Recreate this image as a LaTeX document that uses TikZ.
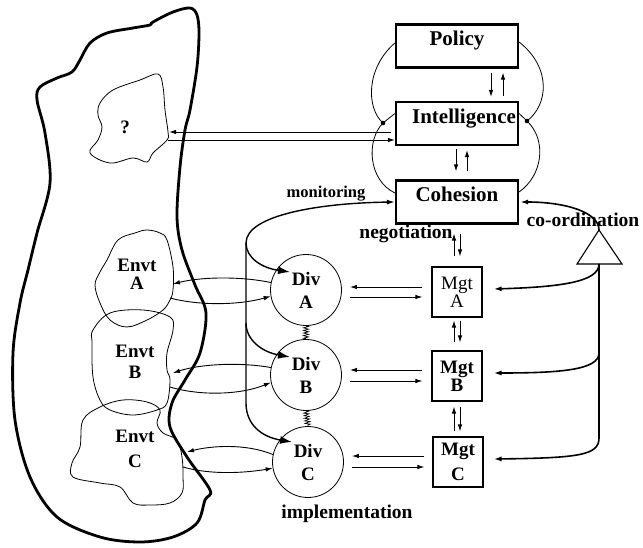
\documentclass[tikz,border=0pt]{standalone}
\usepackage{fontspec}
\setmainfont{Liberation Serif}
\usetikzlibrary{arrows.meta,decorations.pathmorphing,calc}

\begin{document}
\begin{tikzpicture}[x=1pt,y=-1pt,
  sysbox/.style={draw, line width=2.2pt, minimum width=122pt, minimum height=43pt,
    inner sep=0pt, text height=12pt, text depth=12pt,
    font=\bfseries\fontsize{21}{24}\selectfont},
  mgtbox/.style={draw, line width=1.1pt, minimum width=50pt, minimum height=50pt,
    inner sep=0pt, align=center, font=\fontsize{19}{18}\selectfont},
  divnode/.style={circle, draw, line width=0.8pt, minimum size=71pt, inner sep=0pt,
    align=center, font=\bfseries\fontsize{19}{23}\selectfont},
  lab/.style={inner sep=0pt, font=\bfseries\fontsize{19.5}{22}\selectfont},
  envlab/.style={inner sep=0pt, align=center, font=\bfseries\fontsize{19}{20}\selectfont},
  arr/.style={-{Latex[length=7pt,width=4.5pt]}, line width=0.9pt},
  thickarr/.style={-{Latex[length=8pt,width=5pt]}, line width=1.6pt},
  cylarr/.style={-{Latex[length=12pt,width=8pt]}, line width=1.4pt},
  blob/.style={line width=0.8pt},
  spring/.style={decorate, decoration={zigzag, segment length=2.6pt, amplitude=2.5pt}, line width=0.7pt}
]
\useasboundingbox (0,0) rectangle (643,548);

% ---- environment: outer boundary and its regions
\draw[line width=2.8pt, smooth cycle, tension=0.55] plot coordinates {
  (150,25) (153,22) (173,12) (190,8) (197,15) (199,33) (197,67) (190,110) (185,130)
  (180,167) (177,217) (182,250) (195,285) (206,313) (200,353) (185,380) (172,403)
  (170,427) (187,457) (210,490) (205,500) (197,523) (173,537) (140,542) (100,537)
  (57,517) (30,477) (15,420) (13,353) (20,303) (28,270) (37,233) (50,183) (45,133)
  (37,100) (40,87) (57,78) (72,72) (80,60) (90,43) (107,33) (133,28)};

\draw[blob, smooth cycle, tension=0.6] plot coordinates {
  (100,103) (113,90) (140,80) (158,74) (163,87) (165,110) (168,132) (167,140)
  (153,153) (147,162) (133,158) (110,163) (90,153) (98,140) (102,127) (98,115)};
\node[envlab] (qlab) at (125,127) {?};
\coordinate (qin) at (169,132);
\coordinate (qout) at (168,140);

\draw[blob, smooth cycle, tension=0.6] plot coordinates {
  (118,240) (135,233) (147,230) (160,233) (167,240) (173,267) (173,290) (170,300)
  (163,310) (147,320) (127,327) (110,320) (100,303) (95,285) (100,272) (107,260)};
\draw[blob, smooth cycle, tension=0.6] plot coordinates {
  (93,330) (110,313) (143,310) (170,317) (173,330) (167,353) (167,370) (170,380)
  (167,403) (157,410) (133,415) (110,410) (100,400) (93,377) (92,343)};
\draw[blob, smooth cycle, tension=0.6] plot coordinates {
  (83,420) (100,407) (123,400) (147,402) (160,410) (157,423) (163,433) (177,440)
  (182,457) (183,477) (182,493) (170,503) (150,505) (133,503) (120,487) (100,483)
  (73,477) (72,463) (80,447)};
\node[envlab] (envA) at (137,274) {Envt\\[-2pt]A};
\node[envlab] (envB) at (135,362) {Envt\\[1pt]B};
\node[envlab] (envC) at (135,449) {Envt\\[5pt]C};
\coordinate (eAin) at (173,284);  \coordinate (eAout) at (170,298);
\coordinate (eBin) at (173,373);  \coordinate (eBout) at (170,387);
\coordinate (eCin) at (187,452);  \coordinate (eCout) at (183,467);

% ---- management system boxes
\node[sysbox] (policy) at (457,46) {Policy};
\node[sysbox] (intel) at (457,123.5) {\hspace*{14pt}Intelligence};
\node[sysbox] (coh) at (457,202) {Cohesion};

\node[mgtbox] (mgtA) at (457,292) {Mgt\\A};
\node[mgtbox, font=\bfseries\fontsize{19}{18}\selectfont] (mgtB) at (457,376) {Mgt\\B};
\node[mgtbox, font=\bfseries\fontsize{19}{25}\selectfont] (mgtC) at (458,462) {Mgt\\C};

\node[divnode] (divA) at (306,290) {Div\\A};
\node[divnode] (divB) at (306,375) {Div\\B};
\node[divnode] (divC) at (308,462) {Div\\C};

% ---- labels
\node[lab, font=\bfseries\fontsize{16.5}{18}\selectfont] (monL) at (326,194) {monitoring};
\node[lab] (negL) at (406,234) {negotiation};
\node[lab] (coordL) at (583,220) {co-ordination};
\node[lab] (implL) at (347,514) {implementation};

% ---- policy / intelligence / cohesion loops
\coordinate (ldot) at (383,123);
\coordinate (rdot) at (527,121);
\fill (ldot) circle (2.3pt);
\fill (rdot) circle (2.3pt);
\draw[line width=0.8pt] ($(policy.west)+(0,-3)$) .. controls (366,68) and (366,108) .. (ldot);
\draw[line width=0.8pt] (ldot) -- ($(intel.west)+(0,-10)$);
\draw[line width=0.8pt] (ldot) .. controls (366,140) and (368,180) .. ($(coh.west)+(0,-9)$);
\draw[line width=0.8pt] ($(policy.east)+(0,-4)$) .. controls (552,68) and (548,105) .. (rdot);
\draw[line width=0.8pt] (rdot) -- ($(intel.east)+(0,-10)$);
\draw[line width=0.8pt] (rdot) .. controls (547,140) and (543,175) .. ($(coh.east)+(0,-10)$);

\draw[arr] ($(policy.south)+(34,4)$) -- ($(intel.north)+(34,-4)$);
\draw[arr] ($(intel.north)+(46,-5)$) -- ($(policy.south)+(46,4)$);
\draw[arr] ($(intel.south)+(-1,3)$) -- ($(coh.north)+(-1,-8)$);
\draw[arr] ($(coh.north)+(10,-8)$) -- ($(intel.south)+(10,4)$);

% ---- intelligence <-> unknown environment
\draw[arr] ($(intel.west)+(-4,8.5)$) -- (qin);
\draw[arr] (qout) -- ($(intel.west)+(0,16.5)$);

% ---- cohesion <-> management
\draw[arr] ($(mgtA.north)+(-3,-10)$) -- ($(coh.south)+(-3,9)$);
\draw[arr] ($(coh.south)+(3,9)$) -- ($(mgtA.north)+(3,-10)$);
\draw[arr] ($(mgtB.north)+(-3,-8)$) -- ($(mgtA.south)+(-3,3)$);
\draw[arr] ($(mgtA.south)+(3,3)$) -- ($(mgtB.north)+(3,-8)$);
\draw[arr] ($(mgtC.north)+(-4,-5)$) -- ($(mgtB.south)+(-3,5)$);
\draw[arr] ($(mgtB.south)+(3,5)$) -- ($(mgtC.north)+(2,-5)$);

% ---- division <-> management
\draw[arr] ($(mgtA.west)+(-9,-5)$) -- ($(divA.east |- mgtA.west)+(8,-5)$);
\draw[arr] ($(divA.east |- mgtA.west)+(8,5)$) -- ($(mgtA.west)+(-9,5)$);
\draw[arr] ($(mgtB.west)+(-9,-6)$) -- ($(divB.east |- mgtB.west)+(8,-6)$);
\draw[arr] ($(divB.east |- mgtB.west)+(8,5)$) -- ($(mgtB.west)+(-9,5)$);
\draw[arr] ($(mgtC.west)+(-8,-6)$) -- ($(divC.east |- mgtC.west)+(8,-6)$);
\draw[arr] ($(divC.east |- mgtC.west)+(8,5)$) -- ($(mgtC.west)+(-8,5)$);

% ---- links between divisions
\draw[spring] (divA.south) -- (divB.north);
\draw[spring] (divB.south) -- (divC.north);

% ---- division <-> environment
\draw[arr] (divA.168) .. controls (240,276) and (200,277) .. (eAin);
\draw[arr] (eAout) .. controls (200,306) and (240,305) .. (divA.190);
\draw[arr] (divB.168) .. controls (240,362) and (200,364) .. (eBin);
\draw[arr] (eBout) .. controls (200,396) and (240,395) .. (divB.192);
\draw[arr] (divC.168) .. controls (245,443) and (210,446) .. (eCin);
\draw[arr] (eCout) .. controls (210,475) and (245,473) .. (divC.190);

% ---- monitoring / implementation channel
\coordinate (ltop) at (246,243);
\coordinate (lmid) at (246,323);
\coordinate (lbot) at (246,403);
\draw[thickarr, line width=1.4pt] (ltop) .. controls (246,215) and (320,203) .. (coh.west);
\draw[cylarr] (ltop) .. controls (246,258) and (262,268) .. ([xshift=-16pt,yshift=18pt]divA.center);
\draw[cylarr] (lmid) .. controls (246,340) and (262,352) .. ([xshift=-16pt,yshift=18pt]divB.center);
\draw[cylarr] (ltop) -- (lbot) .. controls (246,425) and (262,437) .. ([xshift=-16pt,yshift=20pt]divC.center);

% ---- co-ordination channel
\coordinate (apex) at (599,230);
\coordinate (triL) at (577,264);
\coordinate (triR) at (622,264);
\coordinate (triB) at (599,264);
\coordinate (rmid) at (599,353);
\coordinate (rbot) at (599,438);
\draw[line width=1.1pt] (apex) -- (triL) -- (triR) -- cycle;
\draw[thickarr] (apex) .. controls (599,212) and (565,202) .. ([xshift=1pt]coh.east);
\draw[thickarr] (triB) .. controls (599,282) and (560,287) .. ($(mgtA.east)+(11,-3)$);
\draw[thickarr] (rmid) .. controls (599,370) and (560,373) .. ($(mgtB.east)+(11,-3)$);
\draw[thickarr] (triB) -- (rbot) .. controls (599,455) and (580,458) .. ($(mgtC.east)+(10,-3)$);
\end{tikzpicture}
\end{document}
